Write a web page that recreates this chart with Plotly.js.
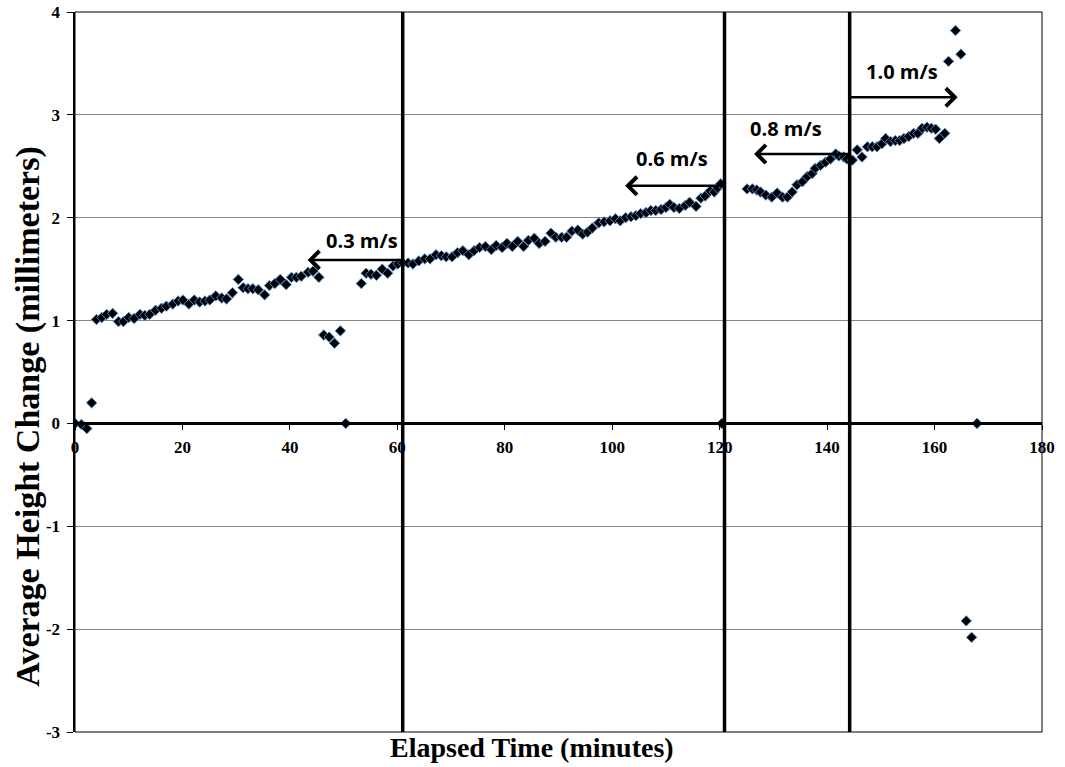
<!DOCTYPE html>
<html>
<head>
<meta charset="utf-8">
<script src="https://cdn.plot.ly/plotly-3.0.1.min.js"></script>
<style>
  html, body { margin: 0; padding: 0; background: #ffffff; }
  #chart { width: 1065px; height: 767px; }
</style>
</head>
<body>
<div id="chart"></div>
<script>
// Elapsed time (minutes) of each height reading
const elapsedMin = [
  0, 1.2, 2.2, 3.1, 4.0, 5.0, 5.9, 7.0, 8.1, 9.0, 10.0, 11.0, 12.1, 13.0, 13.9, 15.0, 16.1, 17.0, 18.2, 19.2,
  20.1, 21.2, 22.2, 23.2, 24.2, 25.1, 26.2, 27.3, 28.2, 29.3, 30.4, 31.3, 32.2, 33.1, 34.1, 35.3, 36.2, 37.2, 38.2, 39.3,
  40.3, 41.2, 42.1, 43.4, 44.3, 45.4, 46.3, 47.3, 48.3, 49.4, 50.4,
  53.3, 54.2, 55.1, 56.1, 57.2, 58.2, 59.2, 60.1, 61.0, 62.0, 62.9, 64.0, 65.1, 66.1, 67.2, 68.2, 69.1, 70.2, 71.2,
  72.2, 73.3, 74.3, 75.3, 76.4, 77.5, 78.4, 79.5, 80.4, 81.4, 82.4, 83.5, 84.4, 85.5, 86.4, 87.5, 88.6, 89.5, 90.6,
  91.5, 92.5, 93.6, 94.5, 95.4, 96.3, 97.5, 98.5, 99.6, 100.6, 101.5, 102.5, 103.5, 104.4, 105.3, 106.3, 107.2, 108.1,
  109.1, 110.0, 110.7, 111.5, 112.5, 113.6, 114.4, 115.6, 116.5, 117.3, 118.2, 119.0, 119.6, 120.2, 120.4,
  125.1, 126.1, 126.9, 127.6, 128.6, 129.7, 130.7, 131.7, 132.6, 133.5, 134.4, 135.4, 136.3, 137.2, 137.8, 138.8,
  139.7, 140.6, 141.6, 142.2, 143.1, 143.7, 144.7, 145.6, 146.5, 147.5, 148.4, 149.3, 150.2, 150.9, 151.8, 152.7,
  153.5, 154.3, 155.2, 156.1, 156.9, 157.7, 158.6, 159.4, 160.2, 160.9, 161.9,
  162.6, 163.9, 164.9, 165.9, 166.9, 167.9
];

// Average height change (millimeters) at each reading
const heightChangeMm = [
  0, -0.01, -0.05, 0.20, 1.01, 1.03, 1.06, 1.07, 0.99, 0.99, 1.03, 1.02, 1.06, 1.05, 1.06, 1.10, 1.12, 1.14, 1.16, 1.19,
  1.20, 1.16, 1.20, 1.18, 1.19, 1.20, 1.24, 1.22, 1.21, 1.27, 1.40, 1.32, 1.31, 1.31, 1.30, 1.25, 1.34, 1.36, 1.40, 1.35,
  1.42, 1.42, 1.43, 1.47, 1.48, 1.42, 0.86, 0.84, 0.78, 0.90, 0,
  1.36, 1.46, 1.45, 1.44, 1.50, 1.46, 1.53, 1.55, 1.56, 1.56, 1.55, 1.58, 1.60, 1.60, 1.64, 1.63, 1.62, 1.62, 1.66,
  1.68, 1.64, 1.68, 1.71, 1.72, 1.69, 1.73, 1.71, 1.75, 1.72, 1.77, 1.72, 1.78, 1.80, 1.75, 1.77, 1.85, 1.81, 1.81,
  1.81, 1.87, 1.88, 1.84, 1.86, 1.90, 1.95, 1.96, 1.97, 1.99, 1.97, 2.00, 2.01, 2.02, 2.04, 2.05, 2.07, 2.07,
  2.08, 2.10, 2.13, 2.10, 2.09, 2.12, 2.15, 2.11, 2.19, 2.21, 2.26, 2.25, 2.29, 2.33, 0,
  2.28, 2.28, 2.27, 2.25, 2.22, 2.20, 2.24, 2.20, 2.20, 2.25, 2.32, 2.35, 2.40, 2.43, 2.48, 2.51,
  2.54, 2.57, 2.62, 2.60, 2.59, 2.57, 2.56, 2.66, 2.59, 2.69, 2.69, 2.69, 2.72, 2.77, 2.74, 2.75,
  2.75, 2.77, 2.79, 2.82, 2.82, 2.87, 2.88, 2.87, 2.86, 2.77, 2.82,
  3.52, 3.82, 3.59, -1.92, -2.08, 0
];

// Axis tick values and their labels
const xTickVals = [0, 20, 40, 60, 80, 100, 120, 140, 160, 180];
const xTickText = ['0', '20', '40', '60', '80', '100', '120', '140', '160', '180'];
const yTickVals = [-3, -2, -1, 0, 1, 2, 3, 4];
const yTickText = ['-3', '-2', '-1', '0', '1', '2', '3', '4'];

// Times at which the flow speed was changed
const speedChangeMin = [61.0, 120.9, 144.2];

// Speed labels with their arrows (arrow runs from tail to tip at height arrowY)
const speedLabels = ['0.3 m/s', '0.6 m/s', '0.8 m/s', '1.0 m/s'];
const arrowTail = [61.0, 120.9, 144.2, 144.2];
const arrowTip = [43.3, 102.4, 126.4, 164.3];
const arrowY = [1.59, 2.31, 2.62, 3.17];
const labelX = [53.5, 111.2, 132.3, 154.0];
const labelY = [1.78, 2.58, 2.87, 3.42];

const serif = 'Liberation Serif, Times New Roman, serif';
const bold = s => '<b>' + s + '</b>';

const trace = {
  type: 'scatter',
  mode: 'markers',
  x: elapsedMin,
  y: heightChangeMm,
  marker: {
    symbol: 'diamond',
    size: 8,
    color: '#000000',
    line: { color: '#4a86c8', width: 1 }
  },
  hoverinfo: 'x+y'
};

const shapes = speedChangeMin.map(t => ({
  type: 'line', xref: 'x', yref: 'paper',
  x0: t, x1: t, y0: 0, y1: 1,
  line: { color: '#000000', width: 3.5 }
}));
// plot area frame
shapes.push({
  type: 'rect', xref: 'paper', yref: 'paper', x0: 0, x1: 1, y0: 0, y1: 1,
  line: { color: '#000000', width: 1 }, layer: 'above'
});

const annotations = [];
speedLabels.forEach((txt, i) => {
  annotations.push({
    x: arrowTip[i], y: arrowY[i], xref: 'x', yref: 'y',
    ax: arrowTail[i], ay: arrowY[i], axref: 'x', ayref: 'y',
    text: '', showarrow: true,
    arrowhead: 4, arrowsize: 1.4, arrowwidth: 2.5, arrowcolor: '#000000',
    standoff: 0, startstandoff: 0
  });
  annotations.push({
    x: labelX[i], y: labelY[i], xref: 'x', yref: 'y',
    text: bold(txt), showarrow: false,
    font: { family: 'Open Sans, sans-serif', size: 20, color: '#000000' },
    xanchor: 'center', yanchor: 'middle'
  });
});
// axis titles
annotations.push({
  xref: 'paper', yref: 'paper', x: 0.4726, y: -0.022,
  text: bold('Elapsed Time (minutes)'), showarrow: false,
  font: { family: serif, size: 28, color: '#000000' },
  xanchor: 'center', yanchor: 'middle'
});
annotations.push({
  xref: 'paper', yref: 'paper', x: -0.0486, y: 0.438,
  text: bold('Average Height Change (millimeters)'), showarrow: false, textangle: -90,
  font: { family: serif, size: 34, color: '#000000' },
  xanchor: 'center', yanchor: 'middle'
});

const layout = {
  width: 1065,
  height: 767,
  margin: { l: 75, r: 23, t: 12, b: 35, pad: 0 },
  paper_bgcolor: '#ffffff',
  plot_bgcolor: '#ffffff',
  showlegend: false,
  xaxis: {
    range: [0, 180],
    tickmode: 'array', tickvals: xTickVals, ticktext: xTickText.map(bold),
    showgrid: false, zeroline: false,
    showline: true, linecolor: '#000000', linewidth: 2.5,
    ticks: 'outside', ticklen: 5, tickwidth: 1, tickcolor: '#000000',
    anchor: 'free', position: 3 / 7,
    ticklabelstandoff: 3,
    tickfont: { family: serif, size: 17, color: '#000000' }
  },
  yaxis: {
    range: [-3, 4],
    tickmode: 'array', tickvals: yTickVals, ticktext: yTickText.map(bold),
    showgrid: true, gridcolor: '#868686', gridwidth: 1.2,
    zeroline: false,
    showline: true, linecolor: '#000000', linewidth: 2.5,
    ticks: 'outside', ticklen: 6, tickwidth: 1, tickcolor: '#000000',
    ticklabelstandoff: 3,
    tickfont: { family: serif, size: 17, color: '#000000' }
  },
  shapes: shapes,
  annotations: annotations
};

Plotly.newPlot('chart', [trace], layout, { displayModeBar: false, staticPlot: true });
</script>
</body>
</html>
